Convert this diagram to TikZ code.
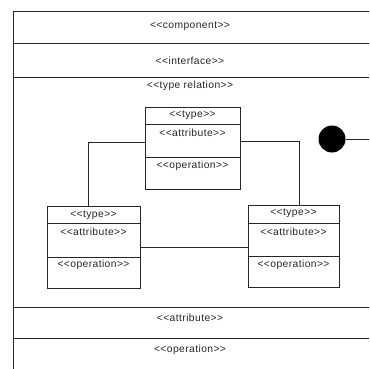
\documentclass[tikz,border=0pt]{standalone}
\usepackage{fontspec}
\setmainfont[LetterSpace=4,Ligatures=TeXOff]{Liberation Sans}
\begin{document}
\begin{tikzpicture}[x=1pt,y=-1pt,
  ln/.style={draw=black!85,line width=0.6pt},
  lbl/.style={font=\fontsize{10.3}{12}\selectfont,text=black!85,inner sep=0pt},
  classbox/.style={ln,rectangle,inner sep=0pt,anchor=north west}]
\useasboundingbox (0,0) rectangle (369,369);
% outer frame
\coordinate (tl) at (13,11);
\coordinate (tr) at (369,11);
\coordinate (bl) at (13,369);
\draw[ln] (tr) -- (tl) -- (bl);
\coordinate (s1l) at (13,43);  \coordinate (s1r) at (369,43);
\coordinate (s2l) at (13,77);  \coordinate (s2r) at (369,77);
\coordinate (s3l) at (13,307); \coordinate (s3r) at (369,307);
\coordinate (s4l) at (13,338); \coordinate (s4r) at (369,338);
\draw[ln] (s1l) -- (s1r);
\draw[ln] (s2l) -- (s2r);
\draw[ln] (s3l) -- (s3r);
\draw[ln] (s4l) -- (s4r);
\node[lbl] (comp) at (190,26) {<<component>>};
\node[lbl] (intf) at (190,61) {<<interface>>};
\node[lbl] (trel) at (190,86) {<<type relation>>};
\node[lbl] (attr) at (190,318) {<<attribute>>};
\node[lbl] (oper) at (190,350) {<<operation>>};
% top class
\node[classbox,minimum width=95pt,minimum height=82pt] (topbox) at (145,107) {};
\draw[ln] (145,124) -- (240,124);
\draw[ln] (145,157) -- (240,157);
\node[lbl] (tt) at (192.5,115.5) {<<type>>};
\node[lbl] (ta) at (192.5,133) {<<attribute>>};
\node[lbl] (to) at (192.5,165.5) {<<operation>>};
% left class
\node[classbox,minimum width=93pt,minimum height=82pt] (leftbox) at (47,206) {};
\draw[ln] (47,223) -- (140,223);
\draw[ln] (47,257) -- (140,257);
\node[lbl] (lt) at (93.5,215) {<<type>>};
\node[lbl] (la) at (93.5,232) {<<attribute>>};
\node[lbl] (lo) at (93.5,265) {<<operation>>};
% right class
\node[classbox,minimum width=91pt,minimum height=82pt] (rightbox) at (248,205) {};
\draw[ln] (248,223) -- (339,223);
\draw[ln] (248,256) -- (339,256);
\node[lbl] (rt) at (293.5,213.5) {<<type>>};
\node[lbl] (ra) at (293.5,232) {<<attribute>>};
\node[lbl] (ro) at (293.5,264.5) {<<operation>>};
% connectors
\draw[ln] ([yshift=6]topbox.west) -| ([xshift=-5.5]leftbox.north);
\draw[ln] ([yshift=7]topbox.east) -| ([xshift=5.5]rightbox.north);
\draw[ln] (leftbox.east) -- (leftbox.east -| rightbox.west);
% initial state dot
\node[circle,fill=black,inner sep=0pt,minimum size=27pt] (dot) at (332,139) {};
\coordinate (dotend) at (369,139);
\draw[ln] (dot.east) -- (dotend);
\end{tikzpicture}
\end{document}
